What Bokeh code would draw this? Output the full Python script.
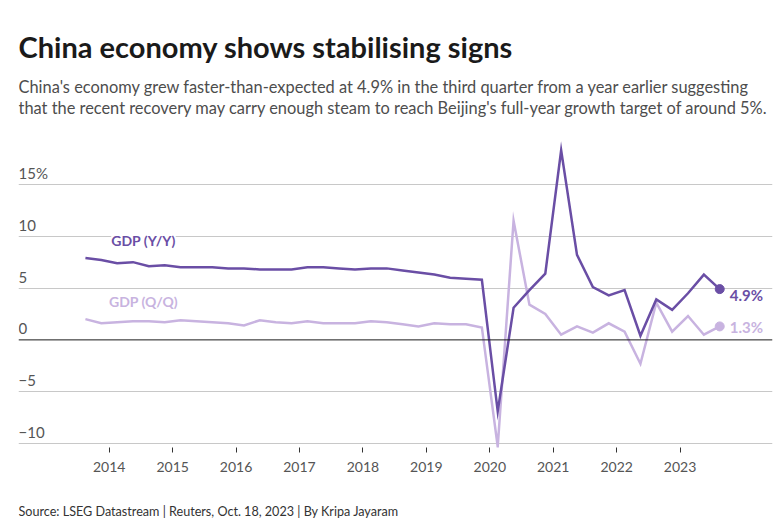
from bokeh.plotting import figure
from bokeh.layouts import column
from bokeh.models import Label, Span, FixedTicker, Range1d, ColumnDataSource
from bokeh.core.properties import value
from bokeh.embed import file_html
from bokeh.resources import INLINE

# Quarterly China GDP growth, Q3 2013 - Q3 2023
quarters = [
    "2013Q3", "2013Q4",
    "2014Q1", "2014Q2", "2014Q3", "2014Q4",
    "2015Q1", "2015Q2", "2015Q3", "2015Q4",
    "2016Q1", "2016Q2", "2016Q3", "2016Q4",
    "2017Q1", "2017Q2", "2017Q3", "2017Q4",
    "2018Q1", "2018Q2", "2018Q3", "2018Q4",
    "2019Q1", "2019Q2", "2019Q3", "2019Q4",
    "2020Q1", "2020Q2", "2020Q3", "2020Q4",
    "2021Q1", "2021Q2", "2021Q3", "2021Q4",
    "2022Q1", "2022Q2", "2022Q3", "2022Q4",
    "2023Q1", "2023Q2", "2023Q3",
]
gdp_yoy = [
    7.9, 7.7,
    7.4, 7.5, 7.1, 7.2,
    7.0, 7.0, 7.0, 6.9,
    6.9, 6.8, 6.8, 6.8,
    7.0, 7.0, 6.9, 6.8,
    6.9, 6.9, 6.7, 6.5,
    6.3, 6.0, 5.9, 5.8,
    -6.9, 3.1, 4.8, 6.4,
    18.3, 8.2, 5.1, 4.3,
    4.8, 0.4, 3.9, 2.9,
    4.5, 6.3, 4.9,
]
gdp_qoq = [
    2.0, 1.6,
    1.7, 1.8, 1.8, 1.7,
    1.9, 1.8, 1.7, 1.6,
    1.4, 1.9, 1.7, 1.6,
    1.8, 1.6, 1.6, 1.6,
    1.8, 1.7, 1.5, 1.3,
    1.6, 1.5, 1.5, 1.2,
    -10.3, 11.5, 3.4, 2.5,
    0.5, 1.3, 0.7, 1.6,
    0.8, -2.3, 3.6, 0.8,
    2.3, 0.5, 1.3,
]
year_ticks = [2014, 2015, 2016, 2017, 2018, 2019, 2020, 2021, 2022, 2023]
y_ticks = [-10, -5, 0, 5, 10, 15]
y_tick_labels = ["\u221210", "\u22125", "0", "5", "10", "15%"]

TITLE = "China economy shows stabilising signs"
SUBTITLE_1 = ("China's economy grew faster-than-expected at 4.9% in the third quarter "
              "from a year earlier suggesting")
SUBTITLE_2 = ("that the recent recovery may carry enough steam to reach Beijing's "
              "full-year growth target of around 5%.")
SOURCE = "Source: LSEG Datastream | Reuters, Oct. 18, 2023 | By Kripa Jayaram"

DARK = "#6a4ea5"
LIGHT = "#c8b3e0"
FONT = "Lato"

W = 783
LEFT, RIGHT = 18, 11
HEADER_H, CHART_H, FOOTER_H = 140, 355, 30


def text_panel(height):
    """Axis-less strip whose data space is page pixels (y grows downward)."""
    f = figure(width=W, height=height, x_range=Range1d(LEFT, W - RIGHT),
               y_range=Range1d(height, 0),
               x_axis_location=None, y_axis_location=None,
               output_backend="svg", toolbar_location=None,
               min_border_left=LEFT, min_border_right=RIGHT,
               min_border_top=0, min_border_bottom=0)
    f.outline_line_color = None
    f.grid.visible = False
    return f


# ---- heading and standfirst ----
header = text_panel(HEADER_H)
header.add_layout(Label(x=LEFT, y=46, text=TITLE, text_font=FONT, text_font_size="29px",
                        text_font_style="bold", text_color="#1a1a1a",
                        text_baseline="alphabetic"))
for y, line in ((85.5, SUBTITLE_1), (106.5, SUBTITLE_2)):
    header.add_layout(Label(x=LEFT, y=y, text=line, text_font=FONT,
                            text_font_size="16.4px", text_color="#4d4d4d",
                            text_baseline="alphabetic"))

# ---- chart ----
# each quarter sits at its mid-point on a fractional-year axis
def quarter_pos(q):
    year, n = int(q[:4]), int(q[-1])
    return year + (n - 0.5) / 4.0

xs = [quarter_pos(q) for q in quarters]
src = ColumnDataSource(dict(x=xs, yoy=gdp_yoy, qoq=gdp_qoq))

p = figure(
    width=W, height=CHART_H,
    x_range=Range1d(2012.57, 2024.457),
    y_range=Range1d(-10.385, 19.24),
    y_axis_location=None,
    output_backend="svg", toolbar_location=None,
    min_border_left=LEFT, min_border_right=RIGHT,
    min_border_top=0, min_border_bottom=48,
)
p.outline_line_color = None

# horizontal grid, zero line drawn separately in black
p.xgrid.visible = False
p.ygrid.ticker = FixedTicker(ticks=[t for t in y_ticks if t != 0])
p.ygrid.grid_line_color = "#c8c8c8"
p.ygrid.grid_line_width = 1
p.add_layout(Span(location=0, dimension="width", line_color="#1a1a1a", line_width=1))

# x axis: year ticks only
ax = p.xaxis[0]
ax.ticker = FixedTicker(ticks=year_ticks)
ax.axis_line_color = None
ax.major_tick_in = 0
ax.major_tick_out = 5
ax.major_tick_line_color = "#333333"
ax.minor_tick_line_color = None
ax.major_label_standoff = 9
ax.major_label_text_font = FONT
ax.major_label_text_font_size = "14px"
ax.major_label_text_color = "#555555"

# y tick labels inside the frame, sitting on their grid lines
p.text(x=[p.x_range.start] * len(y_ticks), y=y_ticks, text=y_tick_labels,
       text_font=value(FONT), text_font_size="15px", text_color="#555555",
       text_baseline="alphabetic", text_align="left", y_offset=-11)

# series
p.line("x", "qoq", source=src, line_color=LIGHT, line_width=2.5, line_join="miter")
p.line("x", "yoy", source=src, line_color=DARK, line_width=2.5, line_join="miter")
p.scatter(x=[xs[-1]], y=[gdp_qoq[-1]], size=9, color=LIGHT)
p.scatter(x=[xs[-1]], y=[gdp_yoy[-1]], size=9, color=DARK)

# end-of-line value labels
for val, col, dy in ((gdp_yoy[-1], DARK, 6), (gdp_qoq[-1], LIGHT, 1)):
    p.add_layout(Label(x=xs[-1], y=val, x_offset=10, y_offset=-dy, text=f"{val}%",
                       text_font=FONT, text_font_size="15px", text_font_style="bold",
                       text_color=col, text_baseline="middle", text_align="left"))

# series names
p.add_layout(Label(x=year_ticks[0] + 0.54, y=9.63, text="GDP (Y/Y)",
                   text_font=FONT, text_font_size="14px", text_font_style="bold",
                   text_color=DARK, text_baseline="middle", text_align="center",
                   background_fill_color="white", background_fill_alpha=1.0))
p.add_layout(Label(x=year_ticks[0] + 0.54, y=3.66, text="GDP (Q/Q)",
                   text_font=FONT, text_font_size="14px", text_font_style="bold",
                   text_color=LIGHT, text_baseline="middle", text_align="center"))

# ---- source line ----
footer = text_panel(FOOTER_H)
footer.add_layout(Label(x=LEFT, y=16, text=SOURCE, text_font=FONT,
                        text_font_size="12.6px", text_color="#333333",
                        text_baseline="alphabetic"))

layout = column(header, p, footer, spacing=0)
open("out.html", "w").write(file_html(layout, INLINE))
